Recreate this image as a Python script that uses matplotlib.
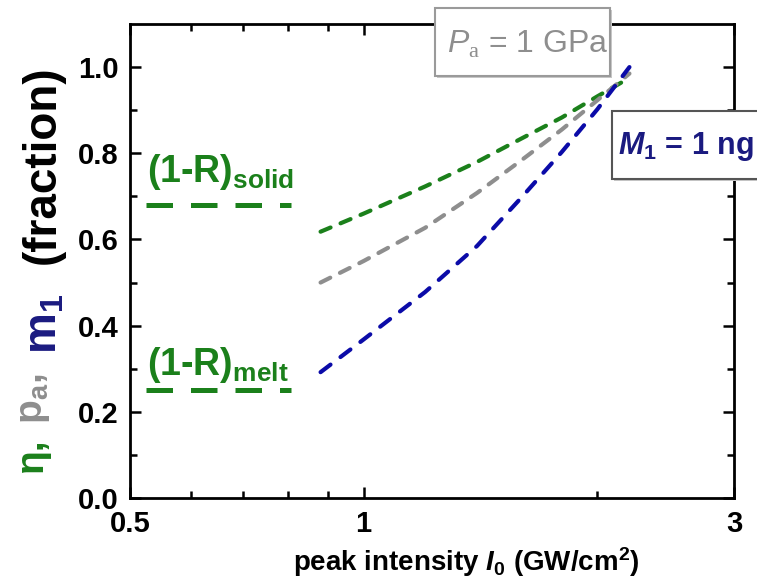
import matplotlib
matplotlib.use("Agg")
import matplotlib.pyplot as plt
from matplotlib.patches import Rectangle
from matplotlib.ticker import FixedLocator, FixedFormatter, NullFormatter

# ---------------- data ----------------
intensity = [0.88, 1.0, 1.2, 1.4, 1.6, 1.8, 2.0, 2.2]
eta = [0.618, 0.66, 0.723, 0.78, 0.835, 0.883, 0.932, 0.975]
p_a = [0.50, 0.55, 0.627, 0.708, 0.785, 0.855, 0.923, 0.985]
m_1 = [0.292, 0.368, 0.478, 0.585, 0.699, 0.803, 0.902, 1.0]

ref_span = [0.525, 0.805]
absorb_solid = [0.68, 0.68]
absorb_melt = [0.25, 0.25]

xticks = [0.5, 1, 3]
xtick_labels = ["0.5", "1", "3"]
xminor = [0.6, 0.7, 0.8, 0.9, 2]
yticks = [0.0, 0.2, 0.4, 0.6, 0.8, 1.0]
ytick_labels = ["0.0", "0.2", "0.4", "0.6", "0.8", "1.0"]
yminor = [0.1, 0.3, 0.5, 0.7, 0.9]

GREEN = "#1b801b"
GRAY = "#8e8e8e"
BLUE = "#0b0ba8"
NAVY = "#1a1a80"

plt.rcParams["font.family"] = ["Liberation Sans", "DejaVu Sans"]
plt.rcParams["mathtext.fontset"] = "custom"
plt.rcParams["mathtext.rm"] = "Liberation Sans"
plt.rcParams["mathtext.it"] = "Liberation Sans:italic"
plt.rcParams["mathtext.bf"] = "Liberation Sans:bold"
plt.rcParams["mathtext.sf"] = "Liberation Serif"
HAS_BFIT = "mathtext.bfit" in plt.rcParams
if HAS_BFIT:
    plt.rcParams["mathtext.bfit"] = "Liberation Sans:italic:bold"
BFIT = r"\mathbfit" if HAS_BFIT else r"\mathit"

W, H = 757, 588
fig = plt.figure(figsize=(W / 100, H / 100), dpi=100)
fig.patch.set_facecolor("white")


def fx(px):
    return px / W


def fy(py):
    return 1 - py / H


ax = fig.add_axes([fx(130), fy(498), (734 - 130) / W, (498 - 24) / H])
ax.set_xscale("log")
ax.set_xlim(0.5, 3)
ax.set_ylim(0, 1.1)

# horizontal reference lines
ax.plot(ref_span, absorb_solid, color=GREEN, lw=3.6, dashes=(5.3, 3.6),
        dash_capstyle="butt")
ax.plot(ref_span, absorb_melt, color=GREEN, lw=3.6, dashes=(5.3, 3.6),
        dash_capstyle="butt")

# curves
ax.plot(intensity, eta, color=GREEN, lw=3.0, dashes=(2.6, 2.6), dash_capstyle="round")
ax.plot(intensity, p_a, color=GRAY, lw=3.0, dashes=(2.6, 2.6), dash_capstyle="round")
ax.plot(intensity, m_1, color=BLUE, lw=3.0, dashes=(3.0, 3.0), dash_capstyle="round")

# ticks
ax.xaxis.set_major_locator(FixedLocator(xticks))
ax.xaxis.set_major_formatter(FixedFormatter(xtick_labels))
ax.xaxis.set_minor_locator(FixedLocator(xminor))
ax.xaxis.set_minor_formatter(NullFormatter())
ax.yaxis.set_major_locator(FixedLocator(yticks))
ax.yaxis.set_major_formatter(FixedFormatter(ytick_labels))
ax.yaxis.set_minor_locator(FixedLocator(yminor))

ax.tick_params(which="both", direction="in", top=True, right=True, width=1.8,
               labelsize=21)
ax.tick_params(which="major", length=8)
ax.tick_params(which="minor", length=5)
ax.tick_params(axis="x", pad=9)
ax.tick_params(axis="y", pad=8)
for lab in ax.get_xticklabels() + ax.get_yticklabels():
    lab.set_fontweight("bold")
for sp in ax.spines.values():
    sp.set_linewidth(2.0)

# annotations (1-R)
ax.text(0.526, 0.733, r"(1-R)$_{\mathbf{solid}}$", color=GREEN, fontsize=27,
        fontweight="bold", va="baseline", ha="left")
ax.text(0.526, 0.285, r"(1-R)$_{\mathbf{melt}}$", color=GREEN, fontsize=27,
        fontweight="bold", va="baseline", ha="left")


# boxes
def box(x0, y0, x1, y1, ec, z=10):
    sh = Rectangle((fx(x0 + 2), fy(y1 + 2)), (x1 - x0) / W, (y1 - y0) / H,
                   transform=fig.transFigure, fc="#c8c8c8", ec="none", zorder=z)
    r = Rectangle((fx(x0), fy(y1)), (x1 - x0) / W, (y1 - y0) / H,
                  transform=fig.transFigure, fc="white", ec=ec, lw=1.5, zorder=z + 1)
    fig.add_artist(sh)
    fig.add_artist(r)


box(435, 8, 610, 76, "#9a9a9a")
fig.text(fx(447), fy(53), r"$\mathit{P}_{\mathsf{a}}$ = 1 GPa", color=GRAY,
         fontsize=23, va="baseline", ha="left", zorder=13)

box(612, 111, 770, 179, "#555555")
fig.text(fx(618), fy(154), r"$" + BFIT + r"{M}_{\mathbf{1}}$ = 1 ng", color=NAVY,
         fontsize=22, fontweight="bold", va="baseline", ha="left", zorder=13)

# x label
fig.text(fx(466), fy(571), r"peak intensity $" + BFIT + r"{I}_{\mathbf{0}}$ (GW/cm$^{\mathbf{2}}$)",
         fontsize=20, fontweight="bold", ha="center", va="baseline")

# y label (multi-coloured, rotated)
ypieces = [
    ("η,", GREEN, 28, 42, 472),
    (r"p$_{\mathbf{a}}$,", GRAY, 28, 42, 424),
    (r"m$_{\mathbf{1}}$", NAVY, 33, 56, 354),
    ("(fraction)", "black", 33, 55, 264),
]
for txt, col, fs, bx, by in ypieces:
    fig.text(fx(bx), fy(by), txt, color=col, fontsize=fs, fontweight="bold",
             rotation=90, rotation_mode="anchor", ha="left", va="baseline")

fig.savefig("out.png", dpi=100, facecolor="white")
